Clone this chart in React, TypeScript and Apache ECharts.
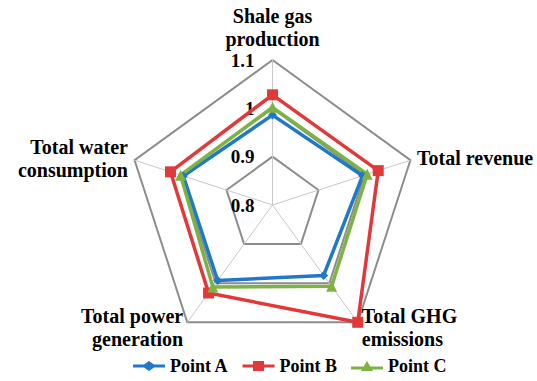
import React, { useEffect, useRef } from "react";
import * as echarts from "echarts";

// Indicators listed counter-clockwise from the top (ECharts radar order)
const indicatorNames = [
  "Shale gas\nproduction",
  "Total water\nconsumption",
  "Total power\ngeneration",
  "Total GHG\nemissions",
  "Total revenue",
];
const axisMin = 0.8;
const axisMax = 1.1;

const seriesNames = ["Point A", "Point B", "Point C"];
const pointA = [0.986, 0.994, 0.993, 0.98, 0.996];
const pointB = [1.028, 1.022, 1.025, 1.1, 1.03];
const pointC = [1.002, 1.0, 1.01, 1.008, 1.006];

const colors = ["#1f78c8", "#e2383a", "#7cb342"];
const symbols = ["diamond", "rect", "triangle"];
const symbolSizes = [9, 11, 11];
const legendIcons = [
  "path://M0,3.5 L11,3.5 L16,0 L21,3.5 L32,3.5 L32,6.5 L21,6.5 L16,10 L11,6.5 L0,6.5 Z",
  "path://M0,3.5 L10.5,3.5 L10.5,0 L21.5,0 L21.5,3.5 L32,3.5 L32,6.5 L21.5,6.5 L21.5,10 L10.5,10 L10.5,6.5 L0,6.5 Z",
  "path://M16,0 L22,10 L10,10 Z M0,5.5 L32,5.5 L32,8.5 L0,8.5 Z",
];

const serif = "Liberation Serif";

export default function App() {
  const ref = useRef<HTMLDivElement>(null);

  useEffect(() => {
    document.body.style.margin = "0";
    if (!ref.current) return;
    const chart = echarts.init(ref.current, null, { renderer: "svg" });
    const values = [pointA, pointB, pointC];
    chart.setOption({
      animation: false,
      backgroundColor: "#ffffff",
      legend: {
        left: 128,
        top: 352,
        itemWidth: 32,
        itemHeight: 10,
        itemGap: 14,
        textStyle: {
          color: "#000",
          fontFamily: serif,
          fontWeight: "bold",
          fontSize: 18,
        },
        data: seriesNames.map((n, i) => ({ name: n, icon: legendIcons[i] })),
      },
      radar: {
        center: [272.5, 205],
        radius: 145,
        startAngle: 90,
        shape: "polygon",
        splitNumber: 3,
        nameGap: 7,
        axisName: {
          color: "#000",
          fontFamily: serif,
          fontWeight: "bold",
          fontSize: 20,
          lineHeight: 23,
        },
        indicator: indicatorNames.map((name, i) => ({
          name,
          min: axisMin,
          max: axisMax,
          axisLabel: { show: i === 0 },
        })),
        axisLabel: {
          color: "#000",
          fontFamily: serif,
          fontWeight: "bold",
          fontSize: 19,
          margin: 18,
        },
        axisTick: { show: false },
        axisLine: { lineStyle: { color: "#c8c8c8", width: 1 } },
        splitLine: { lineStyle: { color: "#8c8c8c", width: 2 } },
        splitArea: { show: false },
      },
      series: [
        {
          type: "radar",
          data: values.map((v, i) => ({
            name: seriesNames[i],
            value: v,
            symbol: symbols[i],
            symbolSize: symbolSizes[i],
            itemStyle: { color: colors[i] },
            lineStyle: { color: colors[i], width: 3.5 },
          })),
        },
      ],
    });
    return () => chart.dispose();
  }, []);

  return <div ref={ref} style={{ width: 537, height: 381 }} />;
}
